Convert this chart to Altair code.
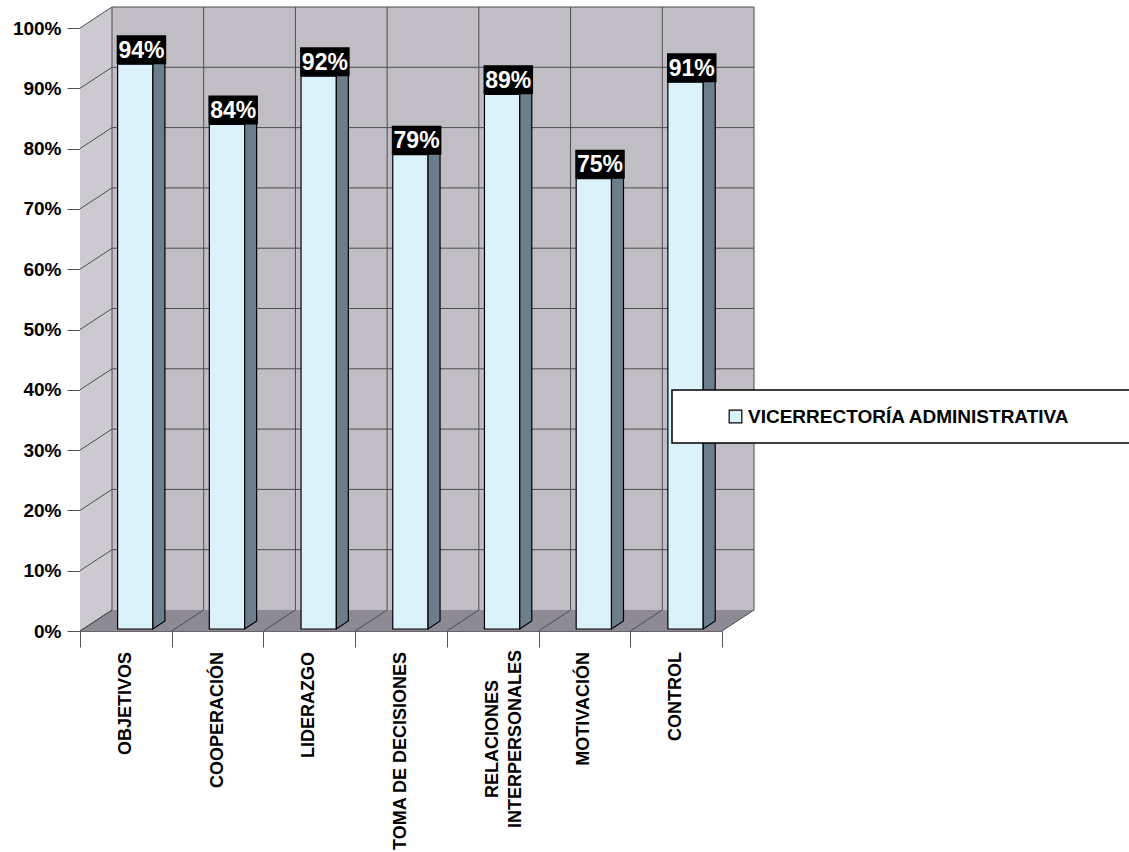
import altair as alt
import pandas as pd

# ---------------- data ----------------
CATEGORIES = ["OBJETIVOS", "COOPERACIÓN", "LIDERAZGO", "TOMA DE DECISIONES",
              "RELACIONES\nINTERPERSONALES", "MOTIVACIÓN", "CONTROL"]
VALUES = [0.94, 0.84, 0.92, 0.79, 0.89, 0.75, 0.91]
SERIES = "VICERRECTORÍA ADMINISTRATIVA"
Y_TICKS = [0, 0.1, 0.2, 0.3, 0.4, 0.5, 0.6, 0.7, 0.8, 0.9, 1.0]

# ---------------- geometry / style ----------------
W, H = 642, 603
N = len(CATEGORIES)
PX = W / N                      # pixels per category unit
DX = 32 / PX                    # depth shift (x, category units)
DY = 21 / H                     # depth shift (y, value units)
BASE = 2 / H
BAR_L, BAR_R = 0.41, 0.795
SIDE_DX, SIDE_DY = 12 / PX, 8 / H
BOX_L, BOX_R, BOX_H = 0.40, 0.94, 29 / H
FONT = "Liberation Sans"

XS = alt.Scale(domain=[0, N], nice=False, zero=False)
YS = alt.Scale(domain=[0, 1], nice=False, zero=False)
X_AXIS = alt.Axis(values=list(range(N + 1)), labels=False, tickSize=16,
                  tickColor="#555555", domainColor="#666666", grid=False, title=None)
Y_AXIS = alt.Axis(values=Y_TICKS, format=".0%", labelFont=FONT, labelFontSize=19,
                  labelFontWeight="bold", labelColor="black", tickSize=13,
                  tickColor="#555555", domainColor="#555555", labelPadding=6,
                  grid=False, title=None)


def X(f):
    return alt.X(f, type="quantitative", scale=XS, axis=X_AXIS)


def Y(f):
    return alt.Y(f, type="quantitative", scale=YS, axis=Y_AXIS)


# walls and floor
left_wall = pd.DataFrame({"x": [0, DX], "y": [1, 1 + DY], "y2": [0, DY]})
floor = pd.DataFrame({"x": [0, DX, N, N + DX],
                      "y": [0, DY, DY, DY],
                      "y2": [0, 0, 0, DY]})
back_wall = pd.DataFrame({"x": [DX], "x2": [N + DX], "y": [DY], "y2": [1 + DY]})

rules = []
for t in Y_TICKS[1:]:
    rules.append({"x": DX, "x2": N + DX, "y": t + DY, "y2": t + DY})
for t in Y_TICKS:
    rules.append({"x": 0, "x2": DX, "y": t, "y2": t + DY})
for i in range(N + 1):
    rules.append({"x": i + DX, "x2": i + DX, "y": DY, "y2": 1 + DY})
    rules.append({"x": i, "x2": i + DX, "y": 0, "y2": DY})
rules = pd.DataFrame(rules)

bars = pd.DataFrame({
    "cat": CATEGORIES,
    "v": VALUES,
    "series": SERIES,
    "x": [i + BAR_L for i in range(N)],
    "x2": [i + BAR_R for i in range(N)],
    "base": BASE,
    "bx": [i + BOX_L for i in range(N)],
    "bx2": [i + BOX_R for i in range(N)],
    "by2": [v + BOX_H for v in VALUES],
    "tx": [i + (BOX_L + BOX_R) / 2 for i in range(N)],
    "ty": [v + BOX_H / 2 for v in VALUES],
    "lbl": [f"{round(v * 100)}%" for v in VALUES],
})

side_rows = []
for i, v in enumerate(VALUES):
    side_rows.append({"cat": CATEGORIES[i], "x": i + BAR_R, "y": v, "y2": BASE})
    side_rows.append({"cat": CATEGORIES[i], "x": i + BAR_R + SIDE_DX,
                      "y": v + SIDE_DY, "y2": BASE + SIDE_DY})
sides = pd.DataFrame(side_rows)

cats = pd.DataFrame({"x": [i + 0.5 for i in range(N)], "label": CATEGORIES})
cats["multi"] = cats["label"].str.contains("\n")

# ---------------- layers ----------------
l_left = alt.Chart(left_wall).mark_area(color="#cdc9d0", opacity=1).encode(
    x=X("x"), y=Y("y"), y2="y2")
l_back = alt.Chart(back_wall).mark_rect(color="#c1bdc5").encode(
    x=X("x"), x2="x2", y=Y("y"), y2="y2")
l_floor = alt.Chart(floor).mark_area(color="#8e8a93", opacity=1).encode(
    x=X("x"), y=Y("y"), y2="y2")
l_rules = alt.Chart(rules).mark_rule(color="#4d4d4d", strokeWidth=1).encode(
    x=X("x"), x2="x2", y=Y("y"), y2="y2")

l_front = alt.Chart(bars).mark_rect(stroke="black", strokeWidth=1.2).encode(
    x=X("x"), x2="x2", y=Y("v"), y2="base",
    fill=alt.Fill("series:N", scale=alt.Scale(domain=[SERIES], range=["#dcf2fa"]),
                  legend=alt.Legend(orient="none", legendX=646, legendY=379, title=None,
                                    symbolType="square", symbolSize=160,
                                    symbolStrokeColor="black", symbolStrokeWidth=1.2,
                                    labelFont=FONT, labelFontSize=19,
                                    labelFontWeight="bold", labelColor="black",
                                    labelOffset=3, labelLimit=600, padding=0)))
l_side = alt.Chart(sides).mark_area(color="#6c7e8b", opacity=1, stroke="black",
                                    strokeWidth=1.2).encode(
    x=X("x"), y=Y("y"), y2="y2", detail="cat:N")
l_box = alt.Chart(bars).mark_rect(color="black").encode(
    x=X("bx"), x2="bx2", y=Y("v"), y2="by2")
l_val = alt.Chart(bars).mark_text(color="white", font=FONT, fontSize=23,
                                  fontWeight="bold", baseline="middle",
                                  align="center", dy=1).encode(
    x=X("tx"), y=Y("ty"), text="lbl:N")

l_cat1 = alt.Chart(cats).transform_filter("!datum.multi").mark_text(
    angle=270, align="right", baseline="middle", font=FONT, fontSize=18,
    fontWeight="bold", color="black").encode(
    x=X("x"), y=alt.value(H + 21), text="label:N")
l_cat2 = alt.Chart(cats).transform_filter("datum.multi").mark_text(
    angle=270, align="center", baseline="middle", font=FONT, fontSize=18,
    fontWeight="bold", color="black", lineBreak="\n", lineHeight=23).encode(
    x=X("x"), y=alt.value(H + 108), text="label:N")

l_legbox = alt.Chart(pd.DataFrame({"a": [0]})).mark_rect(
    fill="white", stroke="black", strokeWidth=1.5).encode(
    x=alt.value(592), x2=alt.value(1070), y=alt.value(362), y2=alt.value(415))

chart = alt.layer(
    l_left, l_back, l_floor, l_rules, l_front, l_side, l_box, l_val,
    l_cat1, l_cat2, l_legbox
).properties(
    width=W, height=H,
    autosize=alt.AutoSizeParams(type="none"),
    padding={"left": 80, "top": 28, "right": 407, "bottom": 221},
).configure_view(stroke=None)

chart.save("out.html", embed_options={"renderer": "svg", "actions": False})
